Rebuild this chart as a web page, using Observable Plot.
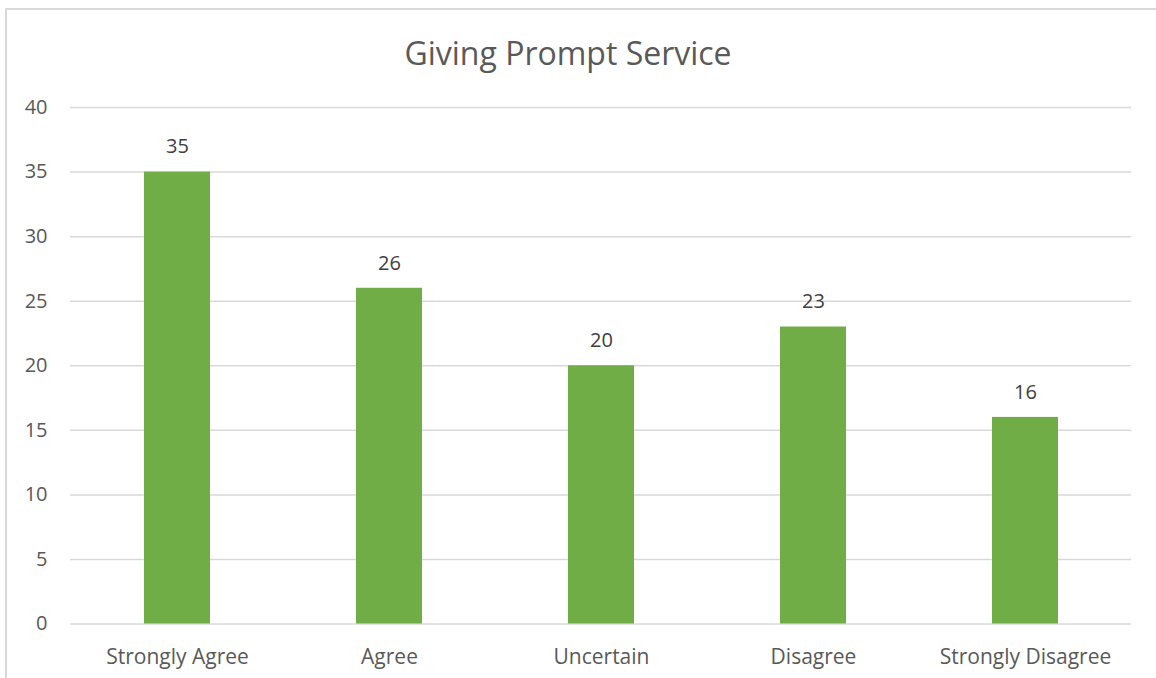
<!DOCTYPE html>
<html>
<head>
<meta charset="utf-8">
<script src="https://cdn.jsdelivr.net/npm/d3@7"></script>
<script src="https://cdn.jsdelivr.net/npm/@observablehq/plot@0.6"></script>
<style>
  html, body { margin: 0; padding: 0; background: #fff; }
  #wrap { position: relative; width: 1156px; height: 678px; overflow: hidden; font-family: "Open Sans", sans-serif; }
  #frame { position: absolute; left: 5px; top: 8px; width: 1200px; height: 700px; border-left: 2px solid #d9d9d9; border-top: 2px solid #d9d9d9; }
  #title { position: absolute; left: 0; width: 1136px; top: 31px; text-align: center; font-size: 32px; color: #595959; font-family: "Open Sans", sans-serif; }
  #chart { position: absolute; left: 0; top: 0; }
</style>
</head>
<body>
<div id="wrap">
  <div id="frame"></div>
  <div id="chart"></div>
  <div id="title">Giving Prompt Service</div>
</div>
<script>
const categories = ["Strongly Agree", "Agree", "Uncertain", "Disagree", "Strongly Disagree"];
const values = [35, 26, 20, 23, 16];
const yTicks = [0, 5, 10, 15, 20, 25, 30, 35, 40];

const data = categories.map((c, i) => ({category: c, value: values[i]}));

const chart = Plot.plot({
  width: 1156,
  height: 678,
  marginLeft: 70,
  marginRight: 25,
  marginTop: 107,
  marginBottom: 54.5,
  style: {fontFamily: "Open Sans, sans-serif", fontSize: "20px", color: "#595959", background: "transparent"},
  x: {domain: categories, paddingInner: 0.69, paddingOuter: 0.345, label: null},
  y: {domain: [0, 40], ticks: yTicks, label: null},
  marks: [
    Plot.gridY(yTicks, {stroke: "#d9d9d9", strokeOpacity: 1, strokeWidth: 1.5}),
    Plot.barY(data, {x: "category", y: "value", fill: "#70AD47"}),
    Plot.axisY(yTicks, {tickSize: 0, tickPadding: 23, fill: "#595959", fontSize: 20, label: null}),
    Plot.axisX({tickSize: 0, tickPadding: 25, fill: "#595959", fontSize: 21, label: null}),
    Plot.text(data, {x: "category", y: "value", text: d => String(d.value), dy: -25, fill: "#404040", fontSize: 20})
  ]
});
document.getElementById("chart").appendChild(chart);
</script>
</body>
</html>
